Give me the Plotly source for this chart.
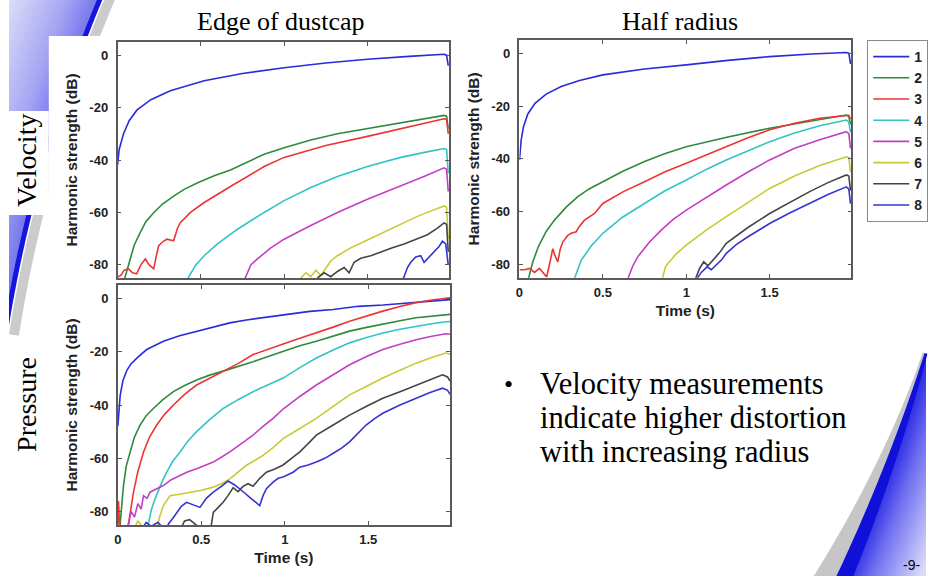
import base64
import numpy as np
import plotly.graph_objects as go

W, H = 929, 576

# ---------------- data: (time in s, harmonic level in dB) ----------------
harmonics = ["1", "2", "3", "4", "5", "6", "7", "8"]
colors = ["#2b2bd8", "#2f8a3c", "#ec3434", "#31c4c4", "#c43ec4", "#c9c934", "#454545", "#3434d2"]
time_ticks = [0, 0.5, 1, 1.5]
time_labels = ["0", "0.5", "1", "1.5"]
db_ticks = [0, -20, -40, -60, -80]
db_labels = ["0", "-20", "-40", "-60", "-80"]

# Velocity, edge of dustcap
ev1 = [(0, -42), (0.01, -36), (0.036, -30), (0.07, -25), (0.116, -21), (0.2, -17), (0.317, -13.6),
       (0.52, -9.8), (0.75, -7), (1.0, -4.8), (1.25, -3), (1.5, -1.6), (1.75, -0.5), (1.96, 0.3),
       (1.975, 0), (1.985, -4)]
ev2 = [(0.035, -87), (0.046, -84.5), (0.076, -77.7), (0.1, -72.5), (0.136, -67.7), (0.17, -63.5),
       (0.217, -60.1), (0.27, -56.8), (0.337, -53.8), (0.4, -51.2), (0.478, -48.8), (0.58, -46),
       (0.678, -43.8), (0.78, -40.8), (0.88, -37.8), (1.0, -35.3), (1.16, -32.4), (1.32, -30),
       (1.5, -28), (1.7, -25.8), (1.85, -24.2), (1.96, -23), (1.975, -23.3), (1.985, -28)]
ev3 = [(0, -84.6), (0.02, -84), (0.04, -82), (0.066, -81.5), (0.09, -83), (0.115, -83.4), (0.14, -80),
       (0.167, -77.7), (0.19, -80), (0.217, -81.5), (0.235, -76), (0.247, -72.7), (0.275, -71),
       (0.297, -70.2), (0.337, -70.8), (0.36, -66), (0.378, -63.8), (0.438, -60), (0.518, -56.3),
       (0.6, -53), (0.68, -50), (0.78, -46.3), (0.88, -42.5), (1.0, -39), (1.25, -34.5), (1.5, -31),
       (1.75, -27.5), (1.96, -24.3), (1.975, -24.5), (1.985, -30)]
ev4 = [(0.41, -87), (0.428, -84.5), (0.47, -80), (0.52, -76.5), (0.6, -72), (0.72, -66.4), (0.88, -60),
       (1.0, -55.5), (1.16, -50.5), (1.32, -46.3), (1.5, -42.5), (1.7, -39), (1.85, -37), (1.96, -35.6),
       (1.975, -36), (1.985, -45)]
ev5 = [(0.75, -87), (0.77, -84.5), (0.8, -80), (0.84, -77.7), (0.92, -73.5), (1.0, -70.2), (1.16, -65),
       (1.32, -60), (1.5, -55), (1.7, -50), (1.85, -46), (1.96, -43), (1.975, -43.5), (1.985, -52)]
ev6 = [(1.1, -85), (1.13, -83), (1.16, -84.5), (1.19, -82), (1.22, -84), (1.25, -81), (1.28, -78.5),
       (1.32, -76.5), (1.4, -73.5), (1.5, -70.5), (1.6, -67.5), (1.72, -64), (1.8, -61.5), (1.88, -59.5),
       (1.96, -57.5), (1.975, -58), (1.985, -70)]
ev7 = [(1.2, -85), (1.24, -83), (1.28, -84.5), (1.32, -82.5), (1.36, -81), (1.39, -83), (1.42, -79),
       (1.46, -77.5), (1.52, -76.5), (1.58, -75), (1.65, -73.5), (1.72, -72), (1.8, -70), (1.86, -68.5),
       (1.92, -66), (1.96, -64), (1.975, -64.5), (1.985, -75)]
ev8 = [(1.7, -87), (1.72, -84.5), (1.74, -81), (1.76, -79), (1.79, -77), (1.82, -76.5), (1.84, -79),
       (1.86, -77.7), (1.9, -75), (1.93, -73), (1.95, -71), (1.97, -72), (1.985, -80)]

# Velocity, half radius
hv1 = [(0, -40.4), (0.01, -33), (0.024, -27.8), (0.05, -23), (0.093, -19), (0.16, -15.5), (0.25, -12.6),
       (0.36, -10.3), (0.5, -8.2), (0.75, -6), (1.0, -4.4), (1.25, -2.7), (1.5, -1.3), (1.75, -0.3),
       (1.96, 0.25), (1.975, 0), (1.985, -4)]
hv2 = [(0.045, -87), (0.054, -85.3), (0.08, -79), (0.113, -73.3), (0.16, -67.5), (0.21, -63.2),
       (0.28, -58.3), (0.35, -54.3), (0.42, -51.3), (0.5, -48.7), (0.62, -44.7), (0.75, -41),
       (0.87, -38.1), (1.0, -35.4), (1.25, -31.7), (1.5, -28.4), (1.75, -25.8), (1.96, -23.4),
       (1.975, -24), (1.985, -27)]
hv3 = [(0, -82), (0.03, -82), (0.06, -81.5), (0.09, -83), (0.12, -81.5), (0.14, -83), (0.163, -84.7),
       (0.18, -80), (0.2, -74), (0.215, -77), (0.23, -79), (0.245, -74), (0.26, -71.4), (0.29, -69),
       (0.31, -68.2), (0.34, -67.6), (0.36, -65.5), (0.39, -63.2), (0.42, -62), (0.45, -60.7),
       (0.5, -56.9), (0.62, -52.5), (0.75, -48.7), (0.87, -45), (1.0, -41.7), (1.12, -38.5),
       (1.24, -35.4), (1.37, -32), (1.5, -29), (1.65, -26.5), (1.8, -24.6), (1.96, -23.4),
       (1.975, -23.5), (1.985, -25)]
hv4 = [(0.32, -87), (0.33, -85.3), (0.37, -78.4), (0.43, -73), (0.5, -68.2), (0.62, -62), (0.75, -56.9),
       (0.87, -52.2), (1.0, -48), (1.12, -44), (1.24, -40.4), (1.37, -36.8), (1.5, -33.5), (1.65, -30.2),
       (1.8, -27.5), (1.96, -25.3), (1.975, -26), (1.985, -30)]
hv5 = [(0.64, -87), (0.65, -85.3), (0.68, -80.5), (0.71, -77), (0.78, -71.5), (0.85, -67), (0.92, -63),
       (1.0, -59.4), (1.12, -54.5), (1.24, -49.9), (1.37, -45), (1.5, -40.4), (1.65, -36), (1.8, -32.8),
       (1.96, -29.7), (1.975, -30.5), (1.985, -36)]
hv6 = [(0.85, -87), (0.857, -85.3), (0.875, -81), (0.89, -79.6), (0.94, -76), (1.0, -72.7), (1.12, -67),
       (1.24, -61.9), (1.37, -56.5), (1.5, -51.2), (1.65, -46.5), (1.8, -42.5), (1.96, -39.2),
       (1.975, -39.5), (1.985, -45)]
hv7 = [(1.05, -87), (1.056, -85.3), (1.08, -81.5), (1.105, -79), (1.13, -80.5), (1.16, -78.5),
       (1.2, -75.5), (1.24, -72), (1.37, -66), (1.5, -60.7), (1.62, -56.5), (1.74, -52.4), (1.85, -49),
       (1.96, -46.1), (1.975, -46.5), (1.985, -52)]
hv8 = [(1.06, -87), (1.065, -85.3), (1.09, -83), (1.125, -80.9), (1.15, -82), (1.19, -79.6),
       (1.215, -78), (1.24, -75.8), (1.3, -72.5), (1.37, -69.5), (1.5, -64.5), (1.62, -60.5),
       (1.74, -56.9), (1.85, -53.5), (1.96, -50.6), (1.975, -51.5), (1.985, -57)]

# Pressure, edge of dustcap
ep1 = [(0, -48), (0.004, -45), (0.014, -36.5), (0.03, -31), (0.054, -27), (0.08, -24.5), (0.114, -22.4),
       (0.173, -19.2), (0.273, -16.1), (0.37, -14), (0.472, -12.3), (0.57, -10.6), (0.671, -9.2),
       (0.77, -8.1), (0.87, -7.2), (1.0, -6), (1.15, -4.9), (1.29, -4.2), (1.44, -3), (1.59, -2.5),
       (1.79, -1.6), (1.965, -0.8), (1.99, -0.5)]
ep2 = [(0.005, -88), (0.014, -84.6), (0.034, -70.2), (0.05, -63), (0.074, -57.6), (0.1, -52),
       (0.134, -47.5), (0.17, -44), (0.213, -41.3), (0.27, -38), (0.333, -35), (0.4, -32.7),
       (0.472, -30.6), (0.55, -28.8), (0.631, -27.3), (0.72, -25.6), (0.81, -23.8), (0.9, -21.8),
       (0.99, -19.8), (1.09, -17.8), (1.189, -16.1), (1.29, -14.2), (1.388, -12.3), (1.49, -10.9),
       (1.587, -9.6), (1.69, -8.4), (1.786, -7.3), (1.88, -6.6), (1.99, -6)]
ep3 = [(0.0, -86), (0.004, -76), (0.01, -84), (0.02, -87), None, (0.06, -87), (0.064, -84.6),
       (0.094, -72.7), (0.12, -65), (0.154, -57.6), (0.19, -52), (0.233, -47.5), (0.28, -43.5),
       (0.333, -40), (0.4, -36), (0.472, -32.5), (0.55, -30), (0.631, -27.6), (0.72, -24.5),
       (0.81, -21.1), (0.9, -19), (0.99, -17.1), (1.09, -15), (1.189, -13), (1.29, -10.8),
       (1.388, -8.6), (1.49, -6.6), (1.587, -4.8), (1.69, -3.1), (1.786, -1.6), (1.88, -0.6),
       (1.965, 0), (1.99, 0.2)]
ep4 = [(0.175, -87), (0.183, -84.6), (0.2, -79.5), (0.223, -75.2), (0.26, -69.5), (0.293, -65.2),
       (0.33, -61), (0.373, -57.6), (0.42, -53.5), (0.472, -50), (0.55, -45.5), (0.631, -41.3),
       (0.72, -38), (0.81, -35), (0.9, -32.3), (0.99, -29.9), (1.09, -26), (1.189, -22.4), (1.29, -19.4),
       (1.388, -16.7), (1.49, -14.7), (1.587, -13), (1.69, -11.6), (1.786, -10.4), (1.88, -9.5),
       (1.965, -8.8), (1.99, -8.7)]
ep5 = [(0.055, -87), (0.065, -84), (0.08, -80), (0.1, -82), (0.12, -77), (0.14, -79), (0.154, -74),
       (0.175, -75), (0.193, -72.7), (0.23, -71.5), (0.273, -70.2), (0.32, -68), (0.373, -66.4),
       (0.42, -65), (0.472, -63.9), (0.52, -62.8), (0.572, -61.4), (0.62, -59.6), (0.671, -57.6),
       (0.74, -54.5), (0.81, -51.3), (0.87, -48), (0.93, -45), (0.99, -41.5), (1.09, -36.8),
       (1.189, -32.5), (1.29, -28.5), (1.388, -24.9), (1.49, -21.8), (1.587, -19.2), (1.69, -17.2),
       (1.786, -15.5), (1.88, -14.2), (1.965, -13.3), (1.99, -13.5)]
ep6 = [(0.1, -86), (0.12, -83.5), (0.14, -85), (0.16, -86), None, (0.233, -87), (0.25, -82),
       (0.273, -77.7), (0.313, -74), (0.37, -73.5), (0.433, -72.7), (0.5, -72), (0.572, -70.8),
       (0.62, -69.5), (0.671, -67.7), (0.72, -65), (0.77, -62.6), (0.82, -60.8), (0.87, -58.9),
       (0.93, -56), (0.99, -52.6), (1.09, -48.8), (1.189, -45), (1.29, -40.5), (1.388, -36.2),
       (1.49, -33), (1.587, -29.9), (1.69, -27), (1.786, -24.3), (1.88, -22.2), (1.965, -20.5),
       (1.99, -21)]
ep7 = [(0.38, -86), (0.4, -83.5), (0.43, -83), (0.46, -84.5), (0.49, -86), None, (0.555, -87),
       (0.562, -84.6), (0.572, -80.3), (0.6, -78.5), (0.631, -76.5), (0.66, -74), (0.691, -71),
       (0.72, -72.5), (0.75, -70.5), (0.78, -69.5), (0.81, -70.5), (0.85, -67.5), (0.89, -65.2),
       (0.94, -64), (0.99, -62.5), (1.04, -60), (1.09, -57.6), (1.14, -54.5), (1.189, -51.3),
       (1.29, -47.5), (1.388, -43.8), (1.49, -40.5), (1.587, -37.5), (1.69, -35), (1.786, -32.5),
       (1.87, -30.5), (1.945, -28.7), (1.975, -29.5), (1.99, -31)]
ep8 = [(0.15, -86), (0.17, -84), (0.2, -85.5), (0.24, -84), (0.27, -86), None, (0.295, -87),
       (0.303, -84.6), (0.33, -82.5), (0.352, -80.3), (0.38, -78), (0.412, -76.5), (0.45, -77.5),
       (0.492, -78.4), (0.53, -75), (0.572, -72.7), (0.62, -70.5), (0.66, -68.5), (0.7, -70),
       (0.731, -71.4), (0.76, -73), (0.79, -74.6), (0.82, -76), (0.85, -77.7), (0.87, -74),
       (0.89, -71.4), (0.93, -68.9), (0.96, -67.5), (0.99, -67), (1.05, -65.2), (1.089, -63.3),
       (1.14, -62.5), (1.189, -61.4), (1.24, -60), (1.288, -58.2), (1.34, -56.2), (1.388, -53.8),
       (1.44, -50.5), (1.487, -47.5), (1.54, -45), (1.587, -43.1), (1.69, -40), (1.786, -37.5),
       (1.87, -35.3), (1.945, -33.7), (1.975, -34.5), (1.99, -36)]

edge_velocity = [ev1, ev2, ev3, ev4, ev5, ev6, ev7, ev8]
half_velocity = [hv1, hv2, hv3, hv4, hv5, hv6, hv7, hv8]
edge_pressure = [ep1, ep2, ep3, ep4, ep5, ep6, ep7, ep8]


def split(points):
    xs = [p[0] if p is not None else None for p in points]
    ys = [p[1] if p is not None else None for p in points]
    return xs, ys


def fx(x):
    return x / W


def fy(y):
    return 1 - y / H


fig = go.Figure()

panels = [(edge_velocity, "x", "y", False), (half_velocity, "x2", "y2", True), (edge_pressure, "x3", "y3", False)]
for series, xa, ya, in_legend in panels:
    for name, col, pts in zip(harmonics, colors, series):
        xs, ys = split(pts)
        fig.add_trace(go.Scatter(x=xs, y=ys, mode="lines", name=name, xaxis=xa, yaxis=ya,
                                 line=dict(color=col, width=1.6), showlegend=in_legend,
                                 connectgaps=False, hoverinfo="skip"))

tick_font = dict(family="Liberation Sans", size=13, color="#222222", weight="bold")
title_font = dict(family="Liberation Sans", size=15.5, color="#222222", weight="bold")


def x_axis(domain, anchor, labels=True):
    return dict(domain=domain, anchor=anchor, range=[0, 1.99], tickvals=time_ticks, ticktext=time_labels,
                showticklabels=labels, showgrid=False, zeroline=False, showline=True, linecolor="#5a5a5a",
                linewidth=1.5, mirror="ticks", ticks="inside", ticklen=4, tickcolor="#555555",
                tickfont=tick_font, ticklabelstandoff=2,
                title=dict(text="Time (s)" if labels else "", font=title_font, standoff=6))


def y_axis(domain, anchor):
    return dict(domain=domain, anchor=anchor, range=[-85, 5], tickvals=db_ticks, ticktext=db_labels,
                showgrid=False, zeroline=False, showline=True, linecolor="#5a5a5a", linewidth=1.5,
                mirror="ticks", ticks="inside", ticklen=4, tickcolor="#555555", tickfont=tick_font,
                ticklabelstandoff=5,
                title=dict(text="Harmonic strength (dB)", font=title_font, standoff=8))


# ---------------- slide background: two blue swooshes drawn as one SVG ----------------
def ring(cx, cy, r, y0, y1, side, n=120):
    ys = np.linspace(y0, y1, n)
    xs = cx + side * np.sqrt(np.maximum(r ** 2 - (ys - cy) ** 2, 0))
    return list(zip(xs, ys))


def poly(points, close=True):
    s = "M" + " L".join(f"{x:.2f},{y:.2f}" for x, y in points)
    return s + ("Z" if close else "")


# upper-left swoosh: circle whose centre lies to the right
cxa, cya, ra = 1435.2, 561.5, 1452.1
ya_end = cya - np.sqrt(ra ** 2 - (cxa - 5) ** 2)
region_a = [(5, -2)] + ring(cxa, cya, ra, -2, ya_end, -1) + [(5, ya_end)]
grey_a = ring(cxa, cya, ra - 9, -5, 335, -1)
blue_a = ring(cxa, cya, ra, -5, 325, -1)

# lower-right swoosh: circle whose centre lies to the upper left
cxb, cyb, rb = -859.0, -173.0, 1861.0
x_edge = 926.0
yb_top = cyb + np.sqrt(rb ** 2 - (x_edge - cxb) ** 2)
region_b = ring(cxb, cyb, rb, yb_top, 600, 1) + [(x_edge, 600)]
th0 = np.arctan2(yb_top - cyb, x_edge - cxb)
th1 = np.arctan2(600 - cyb, np.sqrt(rb ** 2 - (600 - cyb) ** 2))
th = np.linspace(th0, th1, 120)
sfrac = (th - th0) / (th1 - th0)


def offset_curve(delta):
    return [(cxb + (rb + d) * np.cos(t), cyb + (rb + d) * np.sin(t)) for t, d in zip(th, delta)]


blue_w = 3 + 14 * sfrac
grey_w = 2 + 20 * sfrac ** 1.5
b_outer = offset_curve(blue_w / 2)
b_inner = offset_curve(-blue_w / 2)
g_inner = offset_curve(-blue_w / 2 - grey_w)

ga_r = ra + 95
gb_r = rb + 70
svg = f"""<svg xmlns="http://www.w3.org/2000/svg" width="{W}" height="{H}" viewBox="0 0 {W} {H}">
<defs>
<radialGradient id="ga" gradientUnits="userSpaceOnUse" cx="{cxa}" cy="{cya}" r="{ga_r}">
<stop offset="{ra / ga_r:.5f}" stop-color="#7474ee"/>
<stop offset="{(ra + 30) / ga_r:.5f}" stop-color="#a4a4f3"/>
<stop offset="1" stop-color="#e8e8fa"/>
</radialGradient>
<radialGradient id="gb" gradientUnits="userSpaceOnUse" cx="{cxb}" cy="{cyb}" r="{gb_r}">
<stop offset="{rb / gb_r:.5f}" stop-color="#2828e4"/>
<stop offset="{(rb + 25) / gb_r:.5f}" stop-color="#7272f1"/>
<stop offset="1" stop-color="#dadafa"/>
</radialGradient>
</defs>
<rect x="0" y="0" width="{W}" height="{H}" fill="white"/>
<path d="{poly(region_a)}" fill="url(#ga)"/>
<path d="{poly(grey_a, False)}" fill="none" stroke="#cbcbcb" stroke-width="10"/>
<path d="{poly(blue_a, False)}" fill="none" stroke="#1515dc" stroke-width="5"/>
<path d="{poly(region_b)}" fill="url(#gb)"/>
<path d="{poly(b_inner + g_inner[::-1])}" fill="#c6c6c6"/>
<path d="{poly(b_outer + b_inner[::-1])}" fill="#1010d8"/>
<rect x="45" y="36" width="427" height="256" fill="white"/>
<rect x="5" y="111" width="40" height="104" fill="white"/>
<rect x="0" y="0" width="5" height="{H}" fill="white"/>
</svg>"""
svg_uri = "data:image/svg+xml;base64," + base64.b64encode(svg.encode("utf-8")).decode("ascii")

# ---------------- slide text ----------------
serif = "Liberation Serif"
annotations = [
    dict(text="Edge of dustcap", x=fx(278), y=fy(21), font=dict(family=serif, size=26, color="black")),
    dict(text="Half radius", x=fx(678.5), y=fy(21), font=dict(family=serif, size=26, color="black")),
    dict(text="Velocity", x=fx(22), y=fy(160), textangle=-90, font=dict(family=serif, size=28, color="black")),
    dict(text="Pressure", x=fx(22), y=fy(404), textangle=-90, font=dict(family=serif, size=28, color="black")),
    dict(text="•", x=fx(507), y=fy(384), font=dict(family=serif, size=26, color="black")),
]
bullet_lines = ["Velocity measurements", "indicate higher distortion", "with increasing radius"]
for k, line in enumerate(bullet_lines):
    annotations.append(dict(text=line, x=fx(536), y=fy(384 + 34 * k), xanchor="left",
                            font=dict(family=serif, size=30.5, color="black")))
annotations.append(dict(text="-9-", x=fx(911), y=fy(565),
                        font=dict(family="Liberation Sans", size=14, color="black")))
for a in annotations:
    a.update(xref="paper", yref="paper", showarrow=False)
    a.setdefault("xanchor", "center")
    a.setdefault("yanchor", "middle")

fig.update_layout(
    width=W, height=H, autosize=False,
    margin=dict(l=0, r=0, t=0, b=0),
    paper_bgcolor="white", plot_bgcolor="white",
    xaxis=x_axis([fx(114), fx(447)], "y", labels=False),
    yaxis=y_axis([fy(278), fy(42)], "x"),
    xaxis2=x_axis([fx(517.7), fx(851)], "y2"),
    yaxis2=y_axis([fy(277.7), fy(40)], "x2"),
    xaxis3=x_axis([fx(114.3), fx(448)], "y3"),
    yaxis3=y_axis([fy(525), fy(285)], "x3"),
    legend=dict(x=fx(867), y=fy(40), xanchor="left", yanchor="top", bgcolor="white",
                bordercolor="#8a8a8a", borderwidth=1, itemwidth=36, tracegroupgap=0,
                font=dict(family="Liberation Sans", size=14, color="#222222", weight="bold")),
    images=[dict(source=svg_uri, xref="paper", yref="paper", x=0, y=1, sizex=1, sizey=1,
                 xanchor="left", yanchor="top", sizing="stretch", layer="below")],
    annotations=annotations,
)

fig.write_html("out.html")
